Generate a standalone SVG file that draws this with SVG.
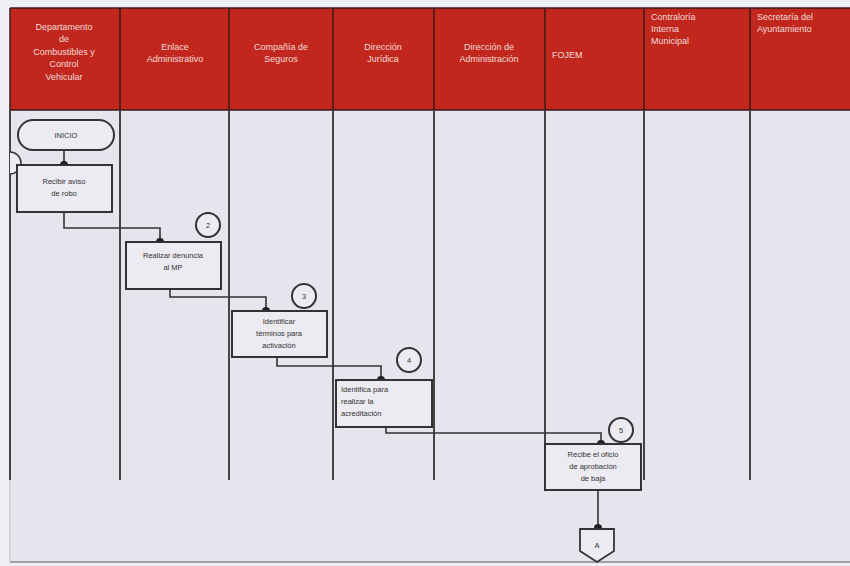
<svg xmlns="http://www.w3.org/2000/svg" width="850" height="566" viewBox="0 0 850 566">
<defs>
<marker id="dot" viewBox="0 0 6 6" refX="3" refY="3" markerWidth="5" markerHeight="5" orient="auto"><circle cx="3" cy="3" r="3" fill="#222"/></marker>
<style>
.hdr{fill:#c1271c}
.hl{stroke:#3a1a18;stroke-width:1.5}
.lane{stroke:#444;stroke-width:2}
.ht{font-family:"Liberation Sans",Arial,sans-serif;font-size:9px;fill:#f3dcd8}
.mid{text-anchor:middle}
.st{text-anchor:start}
.box{fill:#ecebf1;stroke:#333;stroke-width:2}
.bt{font-family:"Liberation Sans",Arial,sans-serif;font-size:7.5px;fill:#333}
.conn{fill:none;stroke:#333;stroke-width:1.6}
.cir{fill:#ecebf1;stroke:#333;stroke-width:2}
</style>
</defs>
<rect width="850" height="566" fill="#eef0f6"/>
<rect x="10" y="110" width="840" height="452" fill="#e6e5ee"/>
<g id="header">
<rect class="hdr" x="10" y="8" width="840" height="102"/>
<line class="hl" x1="10" y1="8" x2="850" y2="8"/>
<line class="hl" x1="10" y1="110" x2="850" y2="110"/>
<g class="hl">
<line x1="10" y1="8" x2="10" y2="110"/><line x1="120" y1="8" x2="120" y2="110"/><line x1="229" y1="8" x2="229" y2="110"/><line x1="333" y1="8" x2="333" y2="110"/><line x1="434" y1="8" x2="434" y2="110"/><line x1="545" y1="8" x2="545" y2="110"/><line x1="644" y1="8" x2="644" y2="110"/><line x1="750" y1="8" x2="750" y2="110"/>
</g>
<text class="ht mid" x="64" y="30">Departamento</text>
<text class="ht mid" x="64" y="42">de</text>
<text class="ht mid" x="64" y="55">Combustibles y</text>
<text class="ht mid" x="64" y="67">Control</text>
<text class="ht mid" x="64" y="80">Vehicular</text>
<text class="ht mid" x="175" y="50">Enlace</text>
<text class="ht mid" x="175" y="62">Administrativo</text>
<text class="ht mid" x="281" y="50">Compañía de</text>
<text class="ht mid" x="281" y="62">Seguros</text>
<text class="ht mid" x="383" y="50">Dirección</text>
<text class="ht mid" x="383" y="62">Jurídica</text>
<text class="ht mid" x="489" y="50">Dirección de</text>
<text class="ht mid" x="489" y="62">Administración</text>
<text class="ht st" x="552" y="58">FOJEM</text>
<text class="ht st" x="651" y="20">Contraloría</text>
<text class="ht st" x="651" y="32">Interna</text>
<text class="ht st" x="651" y="44">Municipal</text>
<text class="ht st" x="757" y="20">Secretaría del</text>
<text class="ht st" x="757" y="32">Ayuntamiento</text>
</g>
<g id="lanes" class="lane">
<line x1="10" y1="110" x2="10" y2="480"/><line x1="120" y1="110" x2="120" y2="480"/><line x1="229" y1="110" x2="229" y2="480"/><line x1="333" y1="110" x2="333" y2="480"/><line x1="434" y1="110" x2="434" y2="480"/><line x1="545" y1="110" x2="545" y2="490"/><line x1="644" y1="110" x2="644" y2="480"/><line x1="750" y1="110" x2="750" y2="480"/>
</g>
<line x1="10" y1="562" x2="850" y2="562" stroke="#888" stroke-width="1.5"/>
<line x1="10" y1="480" x2="10" y2="562" stroke="#bbb" stroke-width="1"/>
<g id="connectors">
<path class="conn" d="M64 150 V165" marker-end="url(#dot)"/>
<path class="conn" d="M64 212 V228 H160 V242" marker-end="url(#dot)"/>
<path class="conn" d="M170 289 V297 H266 V311" marker-end="url(#dot)"/>
<path class="conn" d="M277 357 V366 H381 V380" marker-end="url(#dot)"/>
<path class="conn" d="M386 427 V433 H601 V444" marker-end="url(#dot)"/>
<path class="conn" d="M598 490 V528" marker-end="url(#dot)"/>
</g>
<g id="n-left"><path d="M10 152 A11 11 0 0 1 10 174" fill="#ecebf1" stroke="#333" stroke-width="1.5"/></g>
<g id="n-inicio"><rect class="box" x="18" y="120" width="96" height="30" rx="15"/><text class="bt mid" x="66" y="138">INICIO</text></g>
<g id="n1"><rect class="box" x="17" y="165" width="95" height="47"/><text class="bt mid" x="64" y="184">Recibir aviso</text><text class="bt mid" x="64" y="196">de robo</text></g>
<g id="c2"><circle class="cir" cx="208" cy="225" r="12"/><text class="bt mid" x="208" y="228">2</text></g>
<g id="n2"><rect class="box" x="126" y="242" width="95" height="47"/><text class="bt mid" x="173" y="258">Realizar denuncia</text><text class="bt mid" x="173" y="270">al MP</text></g>
<g id="c3"><circle class="cir" cx="304" cy="296" r="12"/><text class="bt mid" x="304" y="299">3</text></g>
<g id="n3"><rect class="box" x="232" y="311" width="95" height="46"/><text class="bt mid" x="279" y="324">Identificar</text><text class="bt mid" x="279" y="336">términos para</text><text class="bt mid" x="279" y="348">activación</text></g>
<g id="c4"><circle class="cir" cx="409" cy="360" r="12"/><text class="bt mid" x="409" y="363">4</text></g>
<g id="n4"><rect class="box" x="336" y="380" width="96" height="47"/><text class="bt st" x="341" y="392">Identifica para</text><text class="bt st" x="341" y="404">realizar la</text><text class="bt st" x="341" y="416">acreditación</text></g>
<g id="c5"><circle class="cir" cx="621" cy="430" r="12"/><text class="bt mid" x="621" y="433">5</text></g>
<g id="n5"><rect class="box" x="545" y="444" width="96" height="46"/><text class="bt mid" x="593" y="457">Recibe el oficio</text><text class="bt mid" x="593" y="469">de aprobación</text><text class="bt mid" x="593" y="481">de baja</text></g>
<g id="offpage"><path d="M580 529 H614 V551 L597 562 L580 551 Z" fill="#ecebf1" stroke="#333" stroke-width="1.8"/><text class="bt mid" x="597" y="548">A</text></g>
</svg>
